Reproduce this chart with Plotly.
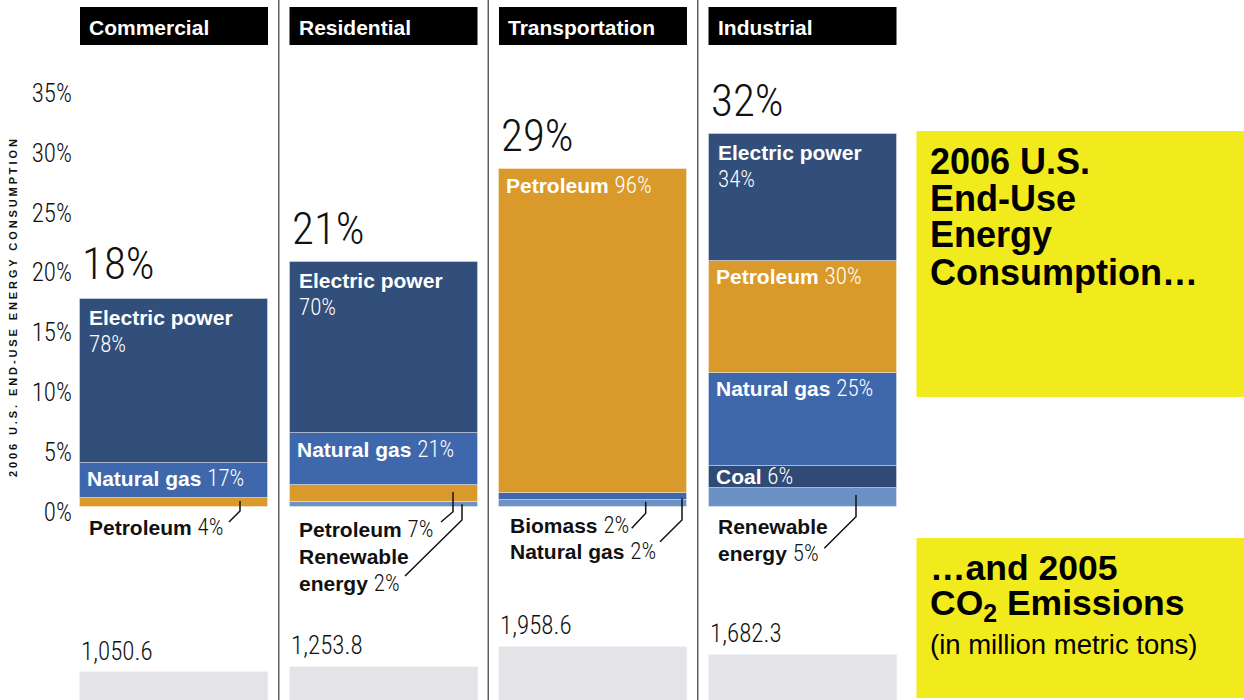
import plotly.graph_objects as go

W, H = 1244, 700

# ---- data -------------------------------------------------------------
sectors = ["Commercial", "Residential", "Transportation", "Industrial"]
sector_share = [18, 21, 29, 32]                 # % of 2006 U.S. end-use energy consumption
co2_2005 = [1050.6, 1253.8, 1958.6, 1682.3]     # million metric tons

# fuel mix inside each sector, listed from the top of the bar down (% of sector)
commercial_sources = ["Electric power", "Natural gas", "Petroleum"]
commercial_pct = [78, 17, 4]
residential_sources = ["Electric power", "Natural gas", "Petroleum", "Renewable energy"]
residential_pct = [70, 21, 7, 2]
transportation_sources = ["Petroleum", "Natural gas", "Biomass"]
transportation_pct = [96, 2, 2]
industrial_sources = ["Electric power", "Petroleum", "Natural gas", "Coal", "Renewable energy"]
industrial_pct = [34, 30, 25, 6, 5]

tick_values = [0, 5, 10, 15, 20, 25, 30, 35]
tick_labels = [f"{v}%" for v in tick_values]

mix_sources = [commercial_sources, residential_sources, transportation_sources, industrial_sources]
mix_pct = [commercial_pct, residential_pct, transportation_pct, industrial_pct]

# ---- styling ------------------------------------------------------------
source_color = {
    "Electric power": "#324e7a",
    "Coal": "#2f4a75",
    "Natural gas": "#3e68ab",
    "Petroleum": "#d9992b",
    "Renewable energy": "#6c91c5",
    "Biomass": "#6c91c5",
}
YELLOW = "#f1eb1e"
GRAY = "#e4e4e7"
BOLD = "Liberation Sans, Arial, sans-serif"
NUM_CSS = "font-family:'Roboto',sans-serif;font-stretch:75%;font-weight:300"
LABEL_PX = 21
NUM_PX = 23

# pixel geometry of the axes
X_C0, X_STEP = 174.0, 209.5          # centre of first column, column pitch
BAR_PX = 188.0
BAR_W = BAR_PX / X_STEP
Y0, YS = 506.7, 11.64                # baseline and px per % for the bars
T0, TS = 512.0, 11.97                # baseline and px per % for the tick labels
C0, CS = 702.0, 0.0282               # baseline and px per Mt for the CO2 bars


def px(x):
    return x / W


def py(y):
    return 1 - y / H


def bar_left(i):
    return X_C0 + X_STEP * i - BAR_PX / 2


def ypix(v):
    return Y0 - YS * v


def num(t, size=None):
    s = NUM_CSS
    if size:
        s += f";font-size:{size}px"
    return f'<span style="{s}">{t}</span>'


def label(x, y, text, size, color="#111", family=BOLD):
    return dict(x=px(x), y=py(y), xref="paper", yref="paper",
                xanchor="left", yanchor="middle", showarrow=False, borderpad=0,
                text=text, font=dict(family=family, size=size, color=color))


fig = go.Figure()
annotations = []
shapes = []

# ---- stacked sector bars ------------------------------------------------
for i, (srcs, pcts) in enumerate(zip(mix_sources, mix_pct)):
    total = sector_share[i]
    base = 0.0
    segs = []
    for name, p in reversed(list(zip(srcs, pcts))):
        h = total * p / 100.0
        fig.add_trace(go.Bar(
            x=[i], y=[h], base=[base], width=BAR_W, yaxis="y",
            marker=dict(color=source_color[name],
                        line=dict(color="rgba(255,255,255,0.35)", width=1)),
            showlegend=False, hoverinfo="skip",
        ))
        segs.append((name, p, base, base + h))
        base += h
    segs.reverse()

    left = bar_left(i)
    # sector total above the bar
    annotations.append(label(left + 1, ypix(total) - 34, num(f"{total}%"), 45))
    for name, p, b0, b1 in segs:
        top_px, bot_px = ypix(b1), ypix(b0)
        if bot_px - top_px < 20:
            continue  # labelled outside the bar with a leader line
        if name == "Electric power":
            annotations.append(label(left + 8, top_px + 18, f"<b>{name}</b>",
                                     LABEL_PX, "white"))
            annotations.append(label(left + 8, top_px + 45, num(f"{p}%"),
                                     NUM_PX, "white"))
        else:
            off = (bot_px - top_px) / 2 if bot_px - top_px < 30 else 16
            annotations.append(label(left + 6, top_px + off,
                                     f"<b>{name}</b> " + num(f"{p}%", NUM_PX),
                                     LABEL_PX, "white"))

# ---- outside labels with leader lines -----------------------------------
# (sector, source, x offset from bar left, line centres, leader polyline)
outside = [
    (0, "Petroleum", 8, [527], [(240, 501), (240, 511), (229, 522)]),
    (1, "Petroleum", 8, [529], [(453, 492), (453, 511.7), (441, 522)]),
    (1, "Renewable energy", 8, [556, 583], [(462, 504.3), (462, 520), (405, 576)]),
    (2, "Biomass", 10, [525], [(645.7, 501.7), (645.7, 513.3), (631.7, 528.3)]),
    (2, "Natural gas", 10, [551], [(682, 498.3), (682, 520), (660, 541.7)]),
    (3, "Renewable energy", 8, [526, 553], [(856, 495), (856, 516.7), (824.3, 548.3)]),
]
for i, name, dx, ys, pts in outside:
    p = mix_pct[i][mix_sources[i].index(name)]
    if len(ys) == 1:
        lines = [f"<b>{name}</b> " + num(f"{p}%", NUM_PX)]
    else:
        w1, rest = name.split(" ", 1)
        lines = [f"<b>{w1}</b>", f"<b>{rest}</b> " + num(f"{p}%", NUM_PX)]
    for y, t in zip(ys, lines):
        annotations.append(label(bar_left(i) + dx, y, t, LABEL_PX))
    path = "M " + " L ".join(f"{px(a)},{py(b)}" for a, b in pts)
    shapes.append(dict(type="path", path=path, xref="paper", yref="paper",
                       line=dict(color="#111", width=1.5)))

# ---- CO2 bars -------------------------------------------------------------
fig.add_trace(go.Bar(
    x=list(range(len(sectors))), y=co2_2005, width=BAR_W, yaxis="y2",
    marker=dict(color=GRAY), showlegend=False, hoverinfo="skip",
))
for i, v in enumerate(co2_2005):
    annotations.append(label(bar_left(i), C0 - CS * v - 21, num(f"{v:,.1f}"), 25))

# invisible trace that carries the percentage tick axis
fig.add_trace(go.Scatter(x=[None], y=[None], yaxis="y3", showlegend=False,
                         hoverinfo="skip"))

# ---- sector headers and column rules -------------------------------------
for i, s in enumerate(sectors):
    shapes.append(dict(type="rect", xref="x", yref="paper",
                       x0=i - BAR_W / 2, x1=i + BAR_W / 2, y0=py(45), y1=py(7),
                       fillcolor="black", line=dict(width=0), layer="below"))
    annotations.append(label(bar_left(i) + 8, 27, f"<b>{s}</b>", 21, "white"))
for i in range(len(sectors) - 1):
    shapes.append(dict(type="line", xref="x", yref="paper",
                       x0=i + 0.5, x1=i + 0.5, y0=0, y1=1,
                       line=dict(color="#555", width=1.4)))

# ---- yellow title boxes ----------------------------------------------------
shapes.append(dict(type="rect", xref="paper", yref="paper",
                   x0=px(916.5), x1=1, y0=py(397), y1=py(131),
                   fillcolor=YELLOW, line=dict(width=0), layer="below"))
shapes.append(dict(type="rect", xref="paper", yref="paper",
                   x0=px(916.5), x1=1, y0=py(698), y1=py(538),
                   fillcolor=YELLOW, line=dict(width=0), layer="below"))
for y, t in zip([161, 198, 235, 272],
                ["2006 U.S.", "End-Use", "Energy", "Consumption…"]):
    annotations.append(label(929, y, f"<b>{t}</b>", 36, "black"))
for y, t, sz, b in [(568, "…and 2005", 35.5, True),
                    (605, "CO<sub>2</sub> Emissions", 35.5, True),
                    (644, "(in million metric tons)", 27.5, False)]:
    annotations.append(label(929, y, f"<b>{t}</b>" if b else t, sz, "black"))

# rotated axis title
annotations.append(dict(
    x=px(13), y=py(307), xref="paper", yref="paper", textangle=-90,
    xanchor="center", yanchor="middle", showarrow=False, borderpad=0,
    text='<b><span style="letter-spacing:2.9px">2006 U.S. END-USE ENERGY CONSUMPTION</span></b>',
    font=dict(family=BOLD, size=11, color="#111")))

fig.update_layout(
    width=W, height=H,
    margin=dict(l=0, r=0, t=0, b=0),
    paper_bgcolor="white", plot_bgcolor="rgba(0,0,0,0)",
    barmode="overlay", bargap=0,
    showlegend=False,
    xaxis=dict(range=[-X_C0 / X_STEP, (W - X_C0) / X_STEP], visible=False,
               domain=[0, 1], fixedrange=True),
    yaxis=dict(range=[(Y0 - H) / YS, Y0 / YS], visible=False, domain=[0, 1],
               fixedrange=True),
    yaxis2=dict(range=[(C0 - H) / CS, C0 / CS], visible=False,
                overlaying="y", fixedrange=True),
    yaxis3=dict(range=[(T0 - H) / TS, T0 / TS], overlaying="y", anchor="free",
                position=px(72), side="left", tickvals=tick_values,
                ticktext=[num(t) for t in tick_labels], ticks="", showgrid=False,
                zeroline=False, showline=False,
                tickfont=dict(family="Roboto", size=25, color="#111"),
                fixedrange=True),
    annotations=annotations,
    shapes=shapes,
)

fig.write_html("out.html")
